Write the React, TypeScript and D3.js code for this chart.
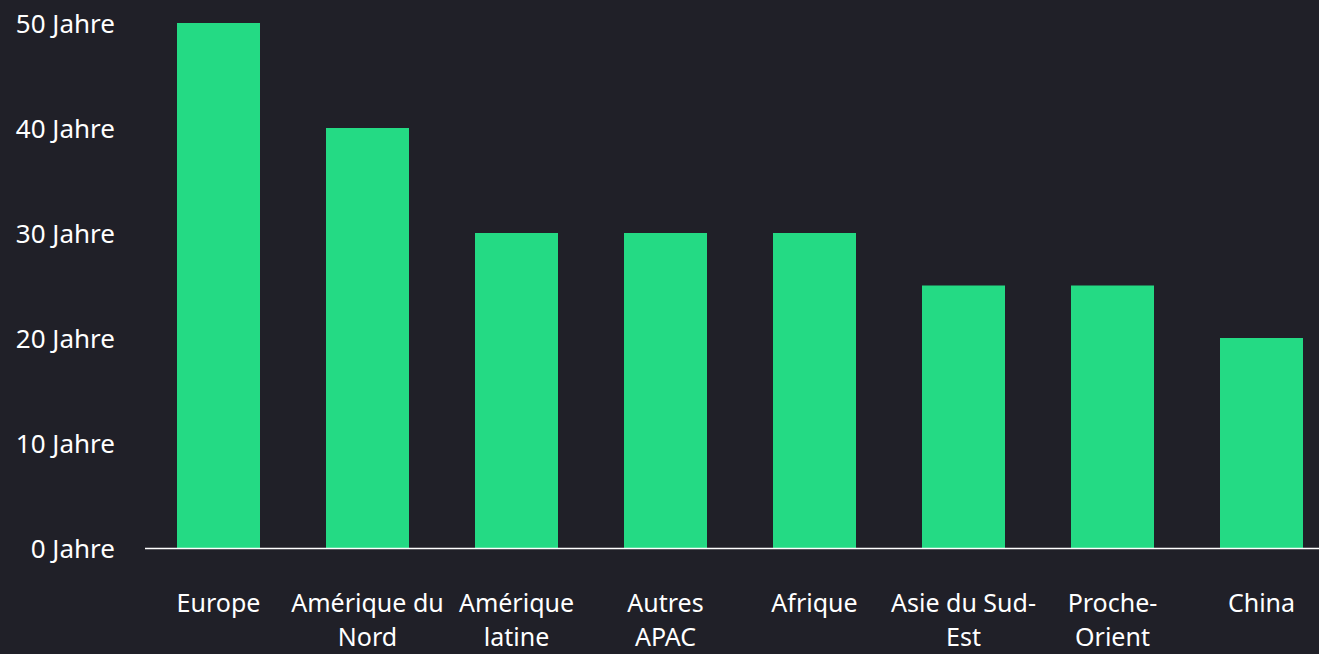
import React from 'react';
import * as d3 from 'd3';

const categories = [
  ['Europe'],
  ['Amérique du', 'Nord'],
  ['Amérique', 'latine'],
  ['Autres', 'APAC'],
  ['Afrique'],
  ['Asie du Sud-', 'Est'],
  ['Proche-', 'Orient'],
  ['China'],
];
const values = [50, 40, 30, 30, 30, 25, 25, 20];
const yTicks = [0, 10, 20, 30, 40, 50];
const unit = 'Jahre';

const W = 1319;
const H = 654;

const App = () => {
  const keys = categories.map((c) => c.join(' '));
  const x = d3.scaleBand<string>().domain(keys).range([144, 1336]).paddingInner(0.443).paddingOuter(0.2215);
  const y = d3.scaleLinear().domain([0, 50]).range([548, 23]);
  const font = '"Noto Sans", "Open Sans", sans-serif';

  return (
    <svg
      width={W}
      height={H}
      style={{ position: 'fixed', left: 0, top: 0, display: 'block' }}
      fontFamily={font}
    >
      <rect width={W} height={H} fill="#202028" />
      {values.map((v, i) => (
        <rect
          key={keys[i]}
          x={x(keys[i])}
          y={y(v)}
          width={x.bandwidth()}
          height={y(0) - y(v)}
          fill="#24da84"
        />
      ))}
      <line x1={145} x2={W} y1={y(0) + 0.5} y2={y(0) + 0.5} stroke="#ffffff" strokeWidth={1.5} />
      {yTicks.map((t) => (
        <text
          key={t}
          x={115}
          y={y(t)}
          textAnchor="end"
          dominantBaseline="central"
          fill="#ffffff"
          fontSize={26}
        >
          {`${t} ${unit}`}
        </text>
      ))}
      {categories.map((lines, i) => (
        <text
          key={keys[i]}
          x={(x(keys[i]) || 0) + x.bandwidth() / 2}
          y={612}
          textAnchor="middle"
          fill="#ffffff"
          fontSize={25}
        >
          {lines.map((l, j) => (
            <tspan key={j} x={(x(keys[i]) || 0) + x.bandwidth() / 2} dy={j === 0 ? 0 : 34}>
              {l}
            </tspan>
          ))}
        </text>
      ))}
    </svg>
  );
};

export default App;
